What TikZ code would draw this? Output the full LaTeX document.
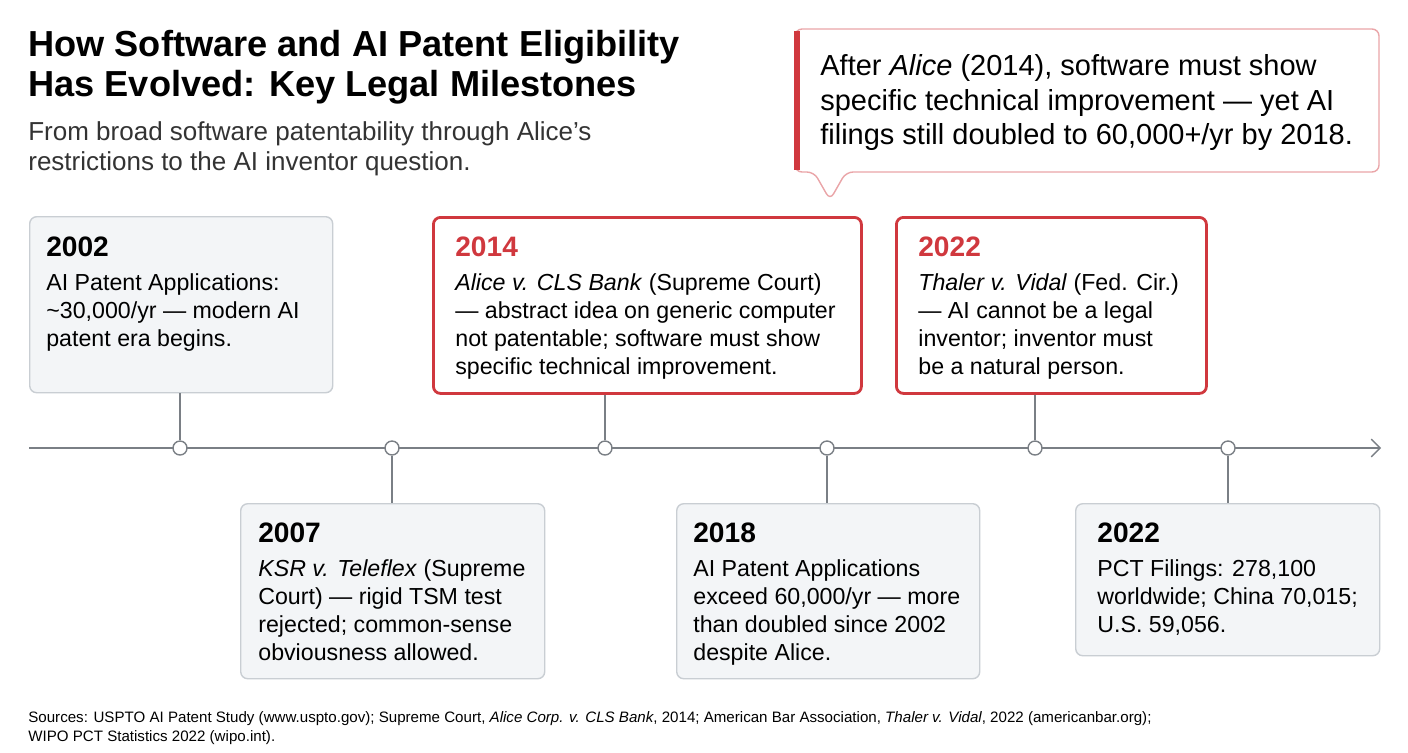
\documentclass[tikz,border=0pt]{standalone}
\usepackage{fontspec}
\setmainfont{Liberation Sans}
\usetikzlibrary{positioning,arrows.meta}
\definecolor{accent}{HTML}{D0383E}
\definecolor{cardfill}{HTML}{F3F5F7}
\definecolor{cardline}{HTML}{C9CED3}
\definecolor{axis}{HTML}{7A7F85}
\def\u{0.02cm}
\tikzset{
  card/.style={draw=cardline, fill=cardfill, rounded corners=4pt, line width=0.8pt, anchor=north west, inner sep=0pt},
  redcard/.style={card, draw=accent, fill=white, line width=1.6pt},
  yr/.style={anchor=north west, font=\fontsize{16}{19}\selectfont\bfseries, inner sep=0pt},
  body/.style={anchor=north west, font=\fontsize{13.2}{16}\selectfont, align=left, inner sep=0pt},
  dot/.style={circle, draw=axis, fill=white, line width=0.8pt, minimum size={14*\u}, inner sep=0pt},
  stem/.style={draw=axis, line width=0.8pt}
}
\begin{document}
\begin{tikzpicture}[x=0.02cm, y=-0.02cm]
  \useasboundingbox[fill=white] (0,0) rectangle (1408,752);
  % title
  \node[anchor=north west, align=left, inner sep=0pt, font=\fontsize{20.6}{23}\selectfont\bfseries] (title) at (28,30)
    {How Software and AI Patent Eligibility\\Has Evolved: Key Legal Milestones};
  \node[anchor=north west, align=left, inner sep=0pt, font=\fontsize{14.8}{17}\selectfont, text=black!80] (sub) at (28,121)
    {From broad software patentability through Alice’s\\restrictions to the AI inventor question.};
  % callout
  \draw[draw=accent!45, fill=white, line width=0.8pt, rounded corners=4pt]
    (795,29) -- (1379,29) -- (1379,172) -- (846,172) -- (830,200) -- (814,172) -- (795,172) -- cycle;
  \draw[accent, line width=3pt] (797,31) -- (797,170);
  \node[anchor=north west, align=left, inner sep=0pt, font=\fontsize{16.5}{19.8}\selectfont] (note) at (820,54)
    {After \textit{Alice} (2014), software must show\\specific technical improvement — yet AI\\filings still doubled to 60,000+/yr by 2018.};
  % axis
  \draw[axis, line width=0.8pt, -{Straight Barb[length=5pt]}] (29,448) -- (1381,448);
  \foreach \n/\x in {1/180,2/392,3/605,4/827,5/1035,6/1228}
    \node[dot] (c\n) at (\x,448) {};
  % cards
  \node[card, minimum width={303*\u}, minimum height={176*\u}] (b1) at (29,216) {};
  \node[card, minimum width={304*\u}, minimum height={175*\u}] (b2) at (240,503) {};
  \node[redcard, minimum width={428*\u}, minimum height={176*\u}] (b3) at (432,216) {};
  \node[card, minimum width={303*\u}, minimum height={175*\u}] (b4) at (676,503) {};
  \node[redcard, minimum width={310*\u}, minimum height={176*\u}] (b5) at (895,216) {};
  \node[card, minimum width={304*\u}, minimum height={152*\u}] (b6) at (1075,503) {};
  % stems
  \draw[stem] (b1.south -| c1) -- (c1);
  \draw[stem] (c2) -- (b2.north -| c2);
  \draw[stem] (b3.south -| c3) -- (c3);
  \draw[stem] (c4) -- (b4.north -| c4);
  \draw[stem] (b5.south -| c5) -- (c5);
  \draw[stem] (c6) -- (b6.north -| c6);
  % texts
  \node[yr] (y1) at (46,237) {2002};
  \node[body] at (46,273) {AI Patent Applications:\\\textasciitilde30,000/yr — modern AI\\patent era begins.};
  \node[yr] (y2) at (258,523) {2007};
  \node[body] at (258,559) {\textit{KSR v. Teleflex} (Supreme\\Court) — rigid TSM test\\rejected; common-sense\\obviousness allowed.};
  \node[yr, text=accent] (y3) at (455,237) {2014};
  \node[body] at (455,273) {\textit{Alice v. CLS Bank} (Supreme Court)\\— abstract idea on generic computer\\not patentable; software must show\\specific technical improvement.};
  \node[yr] (y4) at (693,523) {2018};
  \node[body] at (693,559) {AI Patent Applications\\exceed 60,000/yr — more\\than doubled since 2002\\despite Alice.};
  \node[yr, text=accent] (y5) at (918,237) {2022};
  \node[body] at (918,273) {\textit{Thaler v. Vidal} (Fed. Cir.)\\— AI cannot be a legal\\inventor; inventor must\\be a natural person.};
  \node[yr] (y6) at (1097,523) {2022};
  \node[body] at (1097,559) {PCT Filings: 278,100\\worldwide; China 70,015;\\U.S. 59,056.};
  % sources
  \node[anchor=north west, align=left, inner sep=0pt, font=\fontsize{8.6}{10.8}\selectfont] (src) at (28,711)
    {Sources: USPTO AI Patent Study (www.uspto.gov); Supreme Court, \textit{Alice Corp. v. CLS Bank}, 2014; American Bar Association, \textit{Thaler v. Vidal}, 2022 (americanbar.org);\\WIPO PCT Statistics 2022 (wipo.int).};
\end{tikzpicture}
\end{document}
